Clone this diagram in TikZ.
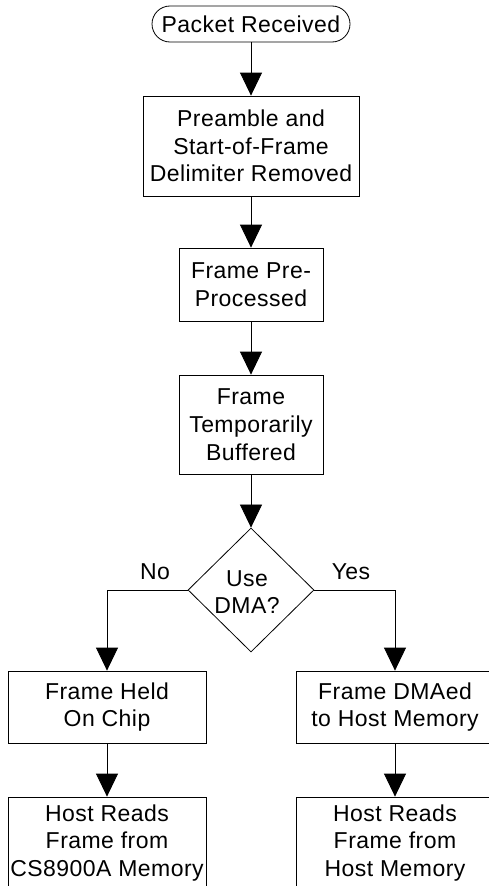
\documentclass[tikz,border=0pt]{standalone}
\usepackage{fontspec}
\setmainfont{Liberation Sans}[LetterSpace=2]
\usetikzlibrary{arrows.meta,shapes.geometric}
\begin{document}
\begin{tikzpicture}[x=1pt,y=-1pt,
  every node/.style={font=\fontsize{23}{27.7}\selectfont, align=center, inner sep=0pt},
  procbox/.style={draw, line width=0.8pt},
  pill/.style={draw, line width=0.8pt, rounded corners=18pt},
  decision/.style={draw, diamond, line width=0.8pt},
  flow/.style={line width=0.8pt, -{Triangle[length=23pt,width=22pt]}}]
\clip (0,0) rectangle (489,886);
\fill[white] (0,0) rectangle (489,886);
\node[pill, minimum width=198pt, minimum height=36pt] (start) at (251,24) {Packet Received};
\node[procbox, minimum width=216pt, minimum height=100pt] (pre) at (251,146) {Preamble and\\Start-of-Frame\\Delimiter Removed};
\node[procbox, minimum width=144pt, minimum height=73pt] (proc) at (251,284.5) {Frame Pre-\\Processed};
\node[procbox, minimum width=144pt, minimum height=99pt] (buf) at (251,424.5) {Frame\\Temporarily\\Buffered};
\node[decision, minimum width=126pt, minimum height=124pt] (dma) at (251,590) {};
\node (dmatext) at (247,592) {Use\\DMA?};
\node (no) at (155,572) {No};
\node (yes) at (351,572) {Yes};
\node[procbox, minimum width=198pt, minimum height=72pt] (held) at (107,707) {Frame Held\\On Chip};
\node[procbox, minimum width=198pt, minimum height=72pt] (dmaed) at (395,707) {Frame DMAed\\to Host Memory};
\node[procbox, minimum width=198pt, minimum height=92pt] (readc) at (107,843) {Host Reads\\Frame from\\CS8900A Memory};
\node[procbox, minimum width=198pt, minimum height=92pt] (readh) at (395,843) {Host Reads\\Frame from\\Host Memory};
\draw[flow] (start) -- (pre);
\draw[flow] (pre) -- (proc);
\draw[flow] (proc) -- (buf);
\draw[flow] (buf) -- (dma);
\draw[flow] (dma.west) -| (held.north);
\draw[flow] (dma.east) -| (dmaed.north);
\draw[flow] (held) -- (readc);
\draw[flow] (dmaed) -- (readh);
\end{tikzpicture}
\end{document}
